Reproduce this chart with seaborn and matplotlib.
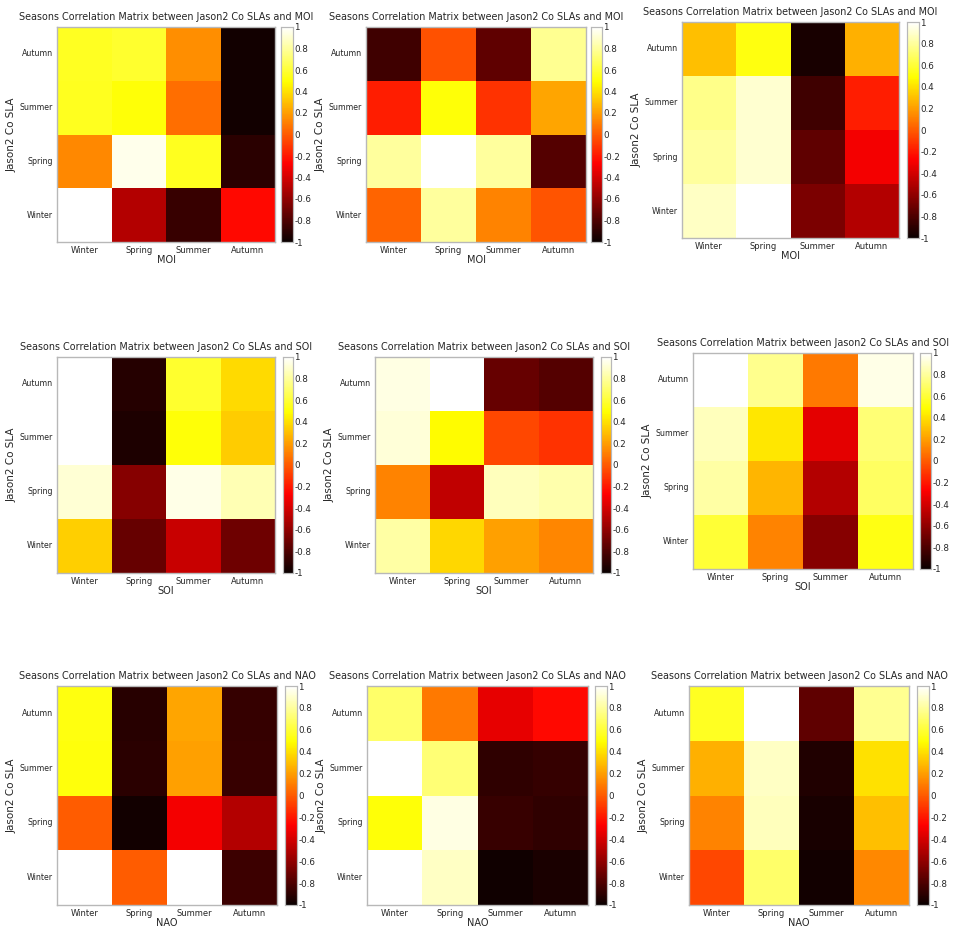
import numpy as np
import pandas as pd
import matplotlib
matplotlib.use("Agg")
import matplotlib.pyplot as plt
import seaborn as sns

# ---- data ----
row_labels = ["Autumn", "Summer", "Spring", "Winter"]   # Jason2 Co SLA (top -> bottom)
col_labels = ["Winter", "Spring", "Summer", "Autumn"]   # index season
cbar_ticks = [-1, -0.8, -0.6, -0.4, -0.2, 0, 0.2, 0.4, 0.6, 0.8, 1]

moi_1 = [[0.56, 0.58, 0.15, -0.97],
         [0.55, 0.50, 0.06, -0.97],
         [0.14, 0.96, 0.55, -0.90],
         [1.00, -0.50, -0.86, -0.25]]
moi_2 = [[-0.84, -0.03, -0.75, 0.78],
         [-0.18, 0.50, -0.12, 0.22],
         [0.80, 1.00, 0.80, -0.78],
         [0.03, 0.80, 0.12, -0.02]]
moi_3 = [[0.30, 0.52, -0.96, 0.25],
         [0.76, 0.90, -0.84, -0.18],
         [0.80, 0.90, -0.75, -0.30],
         [0.88, 1.00, -0.66, -0.50]]
soi_1 = [[1.00, -0.92, 0.58, 0.38],
         [1.00, -0.94, 0.50, 0.34],
         [0.91, -0.63, 0.95, 0.85],
         [0.35, -0.72, -0.43, -0.70]]
soi_2 = [[0.94, 1.00, -0.72, -0.78],
         [0.92, 0.48, -0.06, -0.12],
         [0.12, -0.46, 0.86, 0.83],
         [0.82, 0.37, 0.21, 0.13]]
soi_3 = [[1.00, 0.77, 0.09, 0.95],
         [0.86, 0.42, -0.35, 0.72],
         [0.82, 0.27, -0.50, 0.68],
         [0.60, 0.12, -0.63, 0.53]]
nao_1 = [[0.52, -0.91, 0.22, -0.87],
         [0.51, -0.90, 0.21, -0.86],
         [0.00, -0.97, -0.30, -0.50],
         [1.00, 0.00, 1.00, -0.85]]
nao_2 = [[0.70, 0.09, -0.34, -0.25],
         [1.00, 0.72, -0.89, -0.87],
         [0.50, 0.94, -0.86, -0.89],
         [1.00, 0.88, -0.98, -0.95]]
nao_3 = [[0.56, 1.00, -0.75, 0.78],
         [0.25, 0.88, -0.93, 0.40],
         [0.12, 0.86, -0.96, 0.30],
         [-0.06, 0.70, -0.97, 0.14]]

panels = [("MOI", moi_1), ("MOI", moi_2), ("MOI", moi_3),
          ("SOI", soi_1), ("SOI", soi_2), ("SOI", soi_3),
          ("NAO", nao_1), ("NAO", nao_2), ("NAO", nao_3)]

# ---- layout (pixel boxes: x0, x1, y0, y1, cbar x0, cbar x1) ----
W, H = 955, 932
boxes = [(57, 275, 27, 242, 281, 293),
         (366, 586, 27, 242, 591, 602),
         (682, 899, 22, 238, 907, 919),
         (57, 275, 357, 573, 283, 293),
         (375, 593, 357, 573, 601, 611),
         (693, 913, 353, 569, 920, 931),
         (57, 277, 686, 905, 285, 297),
         (367, 588, 686, 905, 595, 607),
         (689, 909, 686, 905, 917, 929)]

sns.set_style("white")
plt.rcParams['font.family'] = ['DejaVu Sans']

fig = plt.figure(figsize=(W / 100, H / 100), dpi=100)
edge = "#b8b8b8"

for (idx_name, vals), (x0, x1, y0, y1, c0, c1) in zip(panels, boxes):
    ax = fig.add_axes([x0 / W, 1 - y1 / H, (x1 - x0) / W, (y1 - y0) / H])
    cax = fig.add_axes([c0 / W, 1 - y1 / H, (c1 - c0) / W, (y1 - y0) / H])
    df = pd.DataFrame(vals, index=row_labels, columns=col_labels)
    sns.heatmap(df, ax=ax, cbar_ax=cax, cmap="hot", vmin=-1, vmax=1,
                cbar_kws={"ticks": cbar_ticks})
    ax.set_title(f"Seasons Correlation Matrix between Jason2 Co SLAs and {idx_name}",
                 fontsize=6.9, pad=5)
    ax.set_xlabel(idx_name, fontsize=7, labelpad=0)
    ax.set_ylabel("Jason2 Co SLA", fontsize=7.5, labelpad=2)
    ax.set_yticklabels(row_labels, rotation=0, fontsize=5.7)
    ax.set_xticklabels(col_labels, rotation=0, fontsize=6)
    ax.tick_params(direction="in", length=3, width=0.5, color="#666666",
                   top=True, right=True, pad=3)
    for s in ax.spines.values():
        s.set_visible(True)
        s.set_color(edge)
        s.set_linewidth(1.0)
    cax.set_yticklabels([f"{t:g}" for t in cbar_ticks])
    cax.tick_params(direction="in", length=2.5, width=0.5, color="#666666",
                    left=True, right=True, labelsize=6.3, pad=1)
    for s in cax.spines.values():
        s.set_visible(True)
        s.set_color(edge)
        s.set_linewidth(0.8)
    cb = ax.collections[0].colorbar
    cb.outline.set_edgecolor(edge)
    cb.outline.set_linewidth(0.8)

fig.savefig("out.png", dpi=100)
